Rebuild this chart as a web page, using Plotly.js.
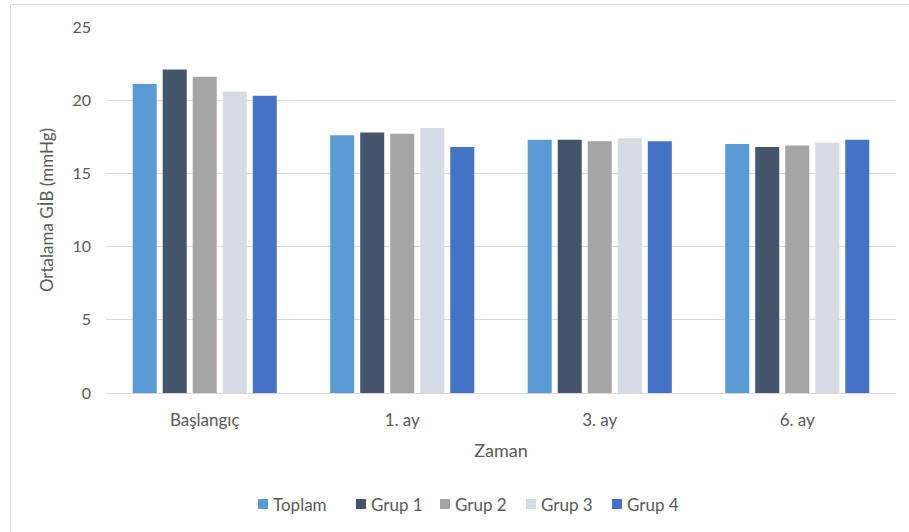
<!DOCTYPE html>
<html>
<head>
<meta charset="utf-8">
<script src="https://cdn.plot.ly/plotly-3.0.1.min.js"></script>
<style>
  html, body { margin: 0; padding: 0; background: #fff; }
  #wrap { position: relative; width: 909px; height: 532px; overflow: hidden; }
  #chart { position: absolute; left: 0; top: 0; width: 909px; height: 532px; }
  #frame { position: absolute; left: 10px; top: 4px; width: 920px; height: 560px;
           border-top: 1px solid #d9d9d9; border-left: 1px solid #d9d9d9;
           pointer-events: none; }
</style>
</head>
<body>
<div id="wrap">
  <div id="chart"></div>
  <div id="frame"></div>
</div>
<script>
// Time points
const zaman = ['Başlangıç', '1. ay', '3. ay', '6. ay'];

// Mean IOP (mmHg) per group
const toplam = [21.1, 17.6, 17.3, 17.0];
const grup1  = [22.1, 17.8, 17.3, 16.8];
const grup2  = [21.6, 17.7, 17.2, 16.9];
const grup3  = [20.6, 18.1, 17.4, 17.1];
const grup4  = [20.3, 16.8, 17.2, 17.3];

const seriesNames = ['Toplam', 'Grup 1', 'Grup 2', 'Grup 3', 'Grup 4'];
const seriesValues = [toplam, grup1, grup2, grup3, grup4];
const seriesColors = ['#5B9BD5', '#44546A', '#A5A5A5', '#D6DCE4', '#4472C4'];

const yTicks = [0, 5, 10, 15, 20, 25];

const font = 'Lato, "Open Sans", sans-serif';
const textColor = '#595959';

// Plot area geometry (px) used to place the compact legend below the axis title
const W = 909, H = 532;
const M = { l: 106, r: 13, t: 27, b: 139 };
const plotW = W - M.l - M.r;
const plotH = H - M.t - M.b;
const toPaperX = px => (px - M.l) / plotW;
const toPaperY = py => (H - M.b - py) / plotH;

// Legend entry left edges (px) and vertical centre
const legendLeft = [258, 356, 440, 526, 612];
const legendCY = 504;
const swatch = 10;

const traces = seriesNames.map((name, i) => ({
  type: 'bar',
  name: name,
  x: zaman,
  y: seriesValues[i],
  marker: { color: seriesColors[i], line: { width: 0 } },
  hoverinfo: 'x+y+name'
}));

const legendShapes = seriesNames.map((name, i) => ({
  type: 'rect',
  xref: 'paper', yref: 'paper',
  x0: toPaperX(legendLeft[i]),
  x1: toPaperX(legendLeft[i] + swatch),
  y0: toPaperY(legendCY + swatch / 2),
  y1: toPaperY(legendCY - swatch / 2),
  fillcolor: seriesColors[i],
  line: { width: 0 }
}));

const legendLabels = seriesNames.map((name, i) => ({
  xref: 'paper', yref: 'paper',
  x: toPaperX(legendLeft[i] + swatch + 3),
  y: toPaperY(legendCY),
  xanchor: 'left', yanchor: 'middle',
  text: name,
  showarrow: false,
  font: { size: 17, color: textColor, family: font }
}));

const layout = {
  width: W,
  height: H,
  margin: M,
  paper_bgcolor: '#ffffff',
  plot_bgcolor: '#ffffff',
  barmode: 'group',
  bargap: 0.24,
  bargroupgap: 0.2,
  showlegend: false,
  font: { family: font, color: textColor, size: 14 },
  xaxis: {
    type: 'category',
    showgrid: false,
    showline: true,
    linecolor: '#d9d9d9',
    linewidth: 1,
    ticks: '',
    ticklabelstandoff: 12,
    tickfont: { size: 17, color: textColor, family: font },
    title: { text: 'Zaman', font: { size: 18, color: textColor, family: font }, standoff: 14 }
  },
  yaxis: {
    range: [0, 25],
    tickvals: yTicks,
    ticktext: yTicks.map(String),
    showgrid: true,
    gridcolor: '#d9d9d9',
    gridwidth: 1,
    zeroline: false,
    showline: false,
    ticks: '',
    ticklabelstandoff: 14,
    tickfont: { size: 16, color: textColor, family: font },
    title: { text: 'Ortalama GİB (mmHg)', font: { size: 17, color: textColor, family: font }, standoff: 14 }
  },
  shapes: legendShapes,
  annotations: legendLabels
};

Plotly.newPlot('chart', traces, layout, { displayModeBar: false, staticPlot: true });
</script>
</body>
</html>
